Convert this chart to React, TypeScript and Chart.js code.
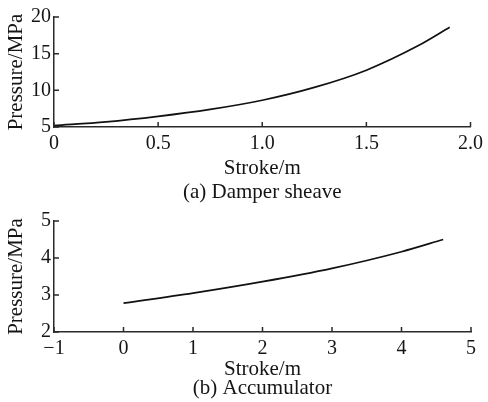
import React, { useEffect, useRef } from "react";
import { Chart, registerables } from "chart.js";

Chart.register(...registerables);

// (a) Damper sheave: stroke (m) vs pressure (MPa)
const strokeA = [0, 0.25, 0.5, 0.75, 1.0, 1.25, 1.5, 1.75, 1.9];
const pressureA = [5.2, 5.7, 6.45, 7.4, 8.65, 10.4, 12.75, 16.1, 18.6];
const xTicksA = [0, 0.5, 1.0, 1.5, 2.0];
const yTicksA = [5, 10, 15, 20];

// (b) Accumulator: stroke (m) vs pressure (MPa)
const strokeB = [0, 1, 2, 3, 4, 4.6];
const pressureB = [2.78, 3.05, 3.36, 3.72, 4.17, 4.5];
const xTicksB = [-1, 0, 1, 2, 3, 4, 5];
const yTicksB = [2, 3, 4, 5];

const xTitle = "Stroke/m";
const yTitle = "Pressure/MPa";
const captionA = "(a) Damper sheave";
const captionB = "(b) Accumulator";

const FONT = "'Liberation Serif', 'Times New Roman', serif";
const INK = "#151515";
const AXIS = "#2a2a2a";

// Short tick marks pointing into the plot area from the left and bottom axes
const inwardTicks = {
  id: "inwardTicks",
  afterDatasetsDraw(chart: any) {
    const { ctx, chartArea } = chart;
    const xs = chart.scales.x;
    const ys = chart.scales.y;
    ctx.save();
    ctx.strokeStyle = AXIS;
    ctx.lineWidth = 1.5;
    ctx.beginPath();
    xs.ticks.forEach((t: any) => {
      const px = xs.getPixelForValue(t.value);
      ctx.moveTo(px, chartArea.bottom);
      ctx.lineTo(px, chartArea.bottom - 5);
    });
    ys.ticks.forEach((t: any) => {
      const py = ys.getPixelForValue(t.value);
      ctx.moveTo(chartArea.left, py);
      ctx.lineTo(chartArea.left + 5, py);
    });
    ctx.stroke();
    ctx.restore();
  },
};

const fmtX = (v: number, decimals: number) => {
  if (v === 0) return "0";
  const s = Math.abs(v).toFixed(decimals);
  return v < 0 ? "\u2212" + s : s;
};

type PanelProps = {
  xs: number[];
  ys: number[];
  xTicks: number[];
  yTicks: number[];
  decimals: number;
  caption: string;
  width: number;
  height: number;
  padTop: number;
  padBottom: number;
  xHeight: number;
  titleLineHeight: number;
};

function Panel(p: PanelProps) {
  const ref = useRef<HTMLCanvasElement | null>(null);

  useEffect(() => {
    if (!ref.current) return;
    const chart = new Chart(ref.current, {
      type: "line",
      data: {
        datasets: [
          {
            data: p.xs.map((x, i) => ({ x, y: p.ys[i] })),
            borderColor: "#111",
            borderWidth: 1.7,
            pointRadius: 0,
            fill: false,
            cubicInterpolationMode: "monotone",
          },
        ],
      },
      plugins: [inwardTicks],
      options: {
        animation: false,
        responsive: false,
        devicePixelRatio: 1,
        layout: { padding: { left: 0, right: 17, top: p.padTop, bottom: p.padBottom } },
        plugins: { legend: { display: false }, tooltip: { enabled: false } },
        scales: {
          x: {
            type: "linear",
            min: p.xTicks[0],
            max: p.xTicks[p.xTicks.length - 1],
            afterBuildTicks: (s: any) => {
              s.ticks = p.xTicks.map((v) => ({ value: v }));
            },
            afterFit: (s: any) => {
              s.height = p.xHeight;
            },
            grid: { display: false, drawTicks: false },
            border: { display: true, color: AXIS, width: 1.5 },
            ticks: {
              autoSkip: false,
              maxRotation: 0,
              padding: 5,
              color: INK,
              font: { family: FONT, size: 20 },
              callback: (v: any) => fmtX(Number(v), p.decimals),
            },
            title: {
              display: true,
              text: [xTitle, p.caption],
              color: INK,
              padding: { top: 0, bottom: 0 },
              font: { family: FONT, size: 21, lineHeight: p.titleLineHeight },
            },
          },
          y: {
            type: "linear",
            min: p.yTicks[0],
            max: p.yTicks[p.yTicks.length - 1],
            afterBuildTicks: (s: any) => {
              s.ticks = p.yTicks.map((v) => ({ value: v }));
            },
            afterFit: (s: any) => {
              s.width = 54;
            },
            grid: { display: false, drawTicks: false },
            border: { display: true, color: AXIS, width: 1.5 },
            ticks: {
              padding: 3,
              color: INK,
              font: { family: FONT, size: 20 },
              callback: (v: any) => String(v),
            },
            title: {
              display: true,
              text: yTitle,
              color: INK,
              padding: { top: 4, bottom: 0 },
              font: { family: FONT, size: 21, lineHeight: 1.2 },
            },
          },
        },
      },
    } as any);
    return () => chart.destroy();
  }, []);

  return (
    <canvas
      ref={ref}
      width={p.width}
      height={p.height}
      style={{ display: "block", width: p.width, height: p.height }}
    />
  );
}

export default function App() {
  return (
    <div
      style={{
        position: "absolute",
        left: 0,
        top: 0,
        width: 488,
        height: 402,
        background: "#fff",
      }}
    >
      <Panel
        xs={strokeA}
        ys={pressureA}
        xTicks={xTicksA}
        yTicks={yTicksA}
        decimals={1}
        caption={captionA}
        width={488}
        height={205}
        padTop={17}
        padBottom={0}
        xHeight={78}
        titleLineHeight={1.17}
      />
      <Panel
        xs={strokeB}
        ys={pressureB}
        xTicks={xTicksB}
        yTicks={yTicksB}
        decimals={0}
        caption={captionB}
        width={488}
        height={197}
        padTop={16}
        padBottom={4}
        xHeight={66}
        titleLineHeight={0.905}
      />
    </div>
  );
}
